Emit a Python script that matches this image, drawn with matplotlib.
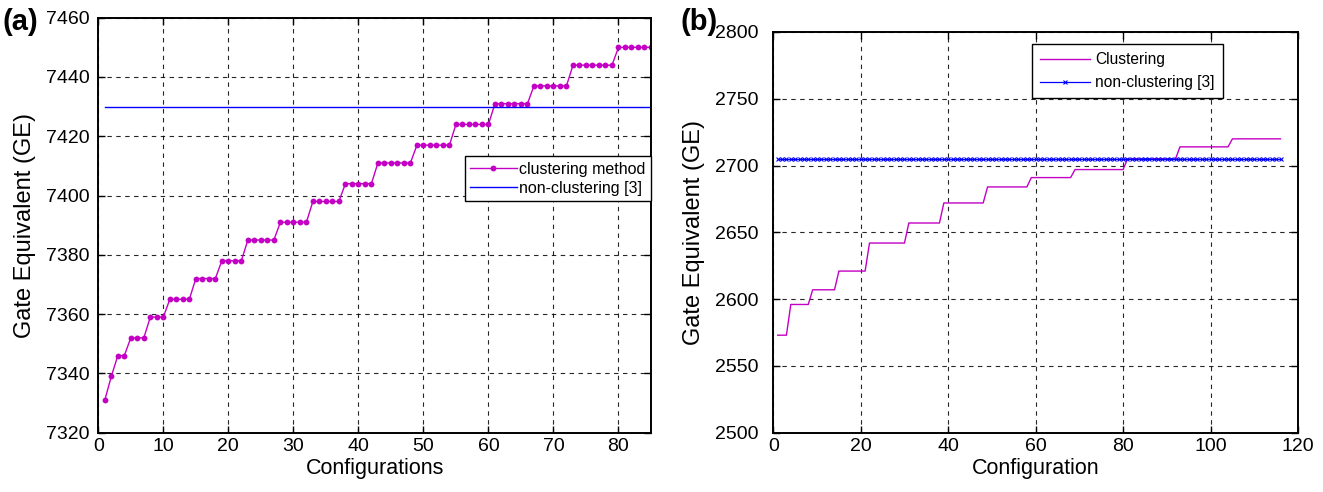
import matplotlib
matplotlib.use("Agg")
import matplotlib.pyplot as plt
import numpy as np

plt.rcParams['font.family'] = ['Liberation Sans', 'DejaVu Sans']

# ---------------- data (a) ----------------
config_a = list(range(1, 86))
clustering_a = [7331, 7339, 7346, 7346, 7352, 7352, 7352, 7359, 7359, 7359,
                7365, 7365, 7365, 7365, 7372, 7372, 7372, 7372, 7378, 7378,
                7378, 7378, 7385, 7385, 7385, 7385, 7385, 7391, 7391, 7391,
                7391, 7391, 7398, 7398, 7398, 7398, 7398, 7404, 7404, 7404,
                7404, 7404, 7411, 7411, 7411, 7411, 7411, 7411, 7417, 7417,
                7417, 7417, 7417, 7417, 7424, 7424, 7424, 7424, 7424, 7424,
                7431, 7431, 7431, 7431, 7431, 7431, 7437, 7437, 7437, 7437,
                7437, 7437, 7444, 7444, 7444, 7444, 7444, 7444, 7444, 7450,
                7450, 7450, 7450, 7450, 7450]
nonclustering_a = 7430

# ---------------- data (b) ----------------
config_b = list(range(1, 117))
clustering_b = [2573, 2573, 2573,
                2596, 2596, 2596, 2596, 2596,
                2607, 2607, 2607, 2607, 2607, 2607,
                2621, 2621, 2621, 2621, 2621, 2621, 2621,
                2642, 2642, 2642, 2642, 2642, 2642, 2642, 2642, 2642,
                2657, 2657, 2657, 2657, 2657, 2657, 2657, 2657,
                2672, 2672, 2672, 2672, 2672, 2672, 2672, 2672, 2672, 2672,
                2684, 2684, 2684, 2684, 2684, 2684, 2684, 2684, 2684, 2684,
                2691, 2691, 2691, 2691, 2691, 2691, 2691, 2691, 2691, 2691,
                2697, 2697, 2697, 2697, 2697, 2697, 2697, 2697, 2697, 2697, 2697, 2697,
                2705, 2705, 2705, 2705, 2705, 2705, 2705, 2705, 2705, 2705, 2705, 2705,
                2714, 2714, 2714, 2714, 2714, 2714, 2714, 2714, 2714, 2714, 2714, 2714,
                2720, 2720, 2720, 2720, 2720, 2720, 2720, 2720, 2720, 2720, 2720, 2720]
nonclustering_b = 2705

xticks_a = [0, 10, 20, 30, 40, 50, 60, 70, 80]
yticks_a = [7320, 7340, 7360, 7380, 7400, 7420, 7440, 7460]
xticks_b = [0, 20, 40, 60, 80, 100, 120]
yticks_b = [2500, 2550, 2600, 2650, 2700, 2750, 2800]

MAG = '#c400c4'
BLUE = '#0000ff'

fig = plt.figure(figsize=(13.23, 4.92), dpi=100)
ax1 = fig.add_axes([98.3/1323, 1-432.7/492, (651-98.3)/1323, (432.7-17.7)/492])
ax2 = fig.add_axes([773.3/1323, 1-432.7/492, (1298-773.3)/1323, (432.7-32)/492])

def style(ax, xt, yt, xlim, ylim, ypad):
    ax.set_xlim(*xlim)
    ax.set_ylim(*ylim)
    ax.set_xticks(xt)
    ax.set_yticks(yt)
    ax.grid(True, color='black', linestyle=(0, (4, 4)), linewidth=0.8, alpha=0.85)
    ax.tick_params(direction='in', top=True, right=True, length=5, width=1,
                   labelsize=14, colors='black')
    ax.tick_params(axis='x', pad=4)
    ax.tick_params(axis='y', pad=ypad)
    for s in ax.spines.values():
        s.set_linewidth(1.4)
        s.set_color('black')

# (a)
ax1.plot(config_a, clustering_a, color=MAG, linewidth=1.0, marker='o',
         markersize=4.2, markeredgewidth=0, label='clustering method')
ax1.plot(config_a, [nonclustering_a] * len(config_a), color=BLUE,
         linewidth=1.0, label='non-clustering [3]')
style(ax1, xticks_a, yticks_a, (0, 85), (7320, 7460), 6)
ax1.set_xlabel('Configurations', fontsize=15.5, labelpad=2)
ax1.set_ylabel('Gate Equivalent (GE)', fontsize=17, labelpad=7)
leg1 = ax1.legend(loc='upper right', bbox_to_anchor=(1.0, 0.666), fontsize=11.5,
                  frameon=True, fancybox=False, framealpha=1, edgecolor='black',
                  borderpad=0.35, handlelength=2.9, handletextpad=0.15,
                  labelspacing=0.25, borderaxespad=0.0)
leg1.get_frame().set_linewidth(1.0)

# (b)
ax2.plot(config_b, clustering_b, color=MAG, linewidth=1.0, label='Clustering')
ax2.plot(config_b, [nonclustering_b] * len(config_b), color=BLUE, linewidth=0.9,
         marker='x', markersize=2.5, markeredgewidth=0.8, label='non-clustering [3]')
style(ax2, xticks_b, yticks_b, (0, 120), (2500, 2800), 11)
ax2.set_xlabel('Configuration', fontsize=15.5, labelpad=2)
ax2.set_ylabel('Gate Equivalent (GE)', fontsize=17, labelpad=7)
leg2 = ax2.legend(loc='upper right', bbox_to_anchor=(0.8565, 0.969), fontsize=11.2,
                  frameon=True, fancybox=False, framealpha=1, edgecolor='black',
                  borderpad=0.5, handlelength=3.2, handletextpad=0.35,
                  labelspacing=0.5, borderaxespad=0.0, markerscale=1.0)
leg2.get_frame().set_linewidth(1.0)

fig.text(3/1323, 1-22/492, '(a)', fontsize=21, fontweight='bold', va='center', ha='left')
fig.text(681/1323, 1-22/492, '(b)', fontsize=21, fontweight='bold', va='center', ha='left')

fig.savefig('out.png', dpi=100)
